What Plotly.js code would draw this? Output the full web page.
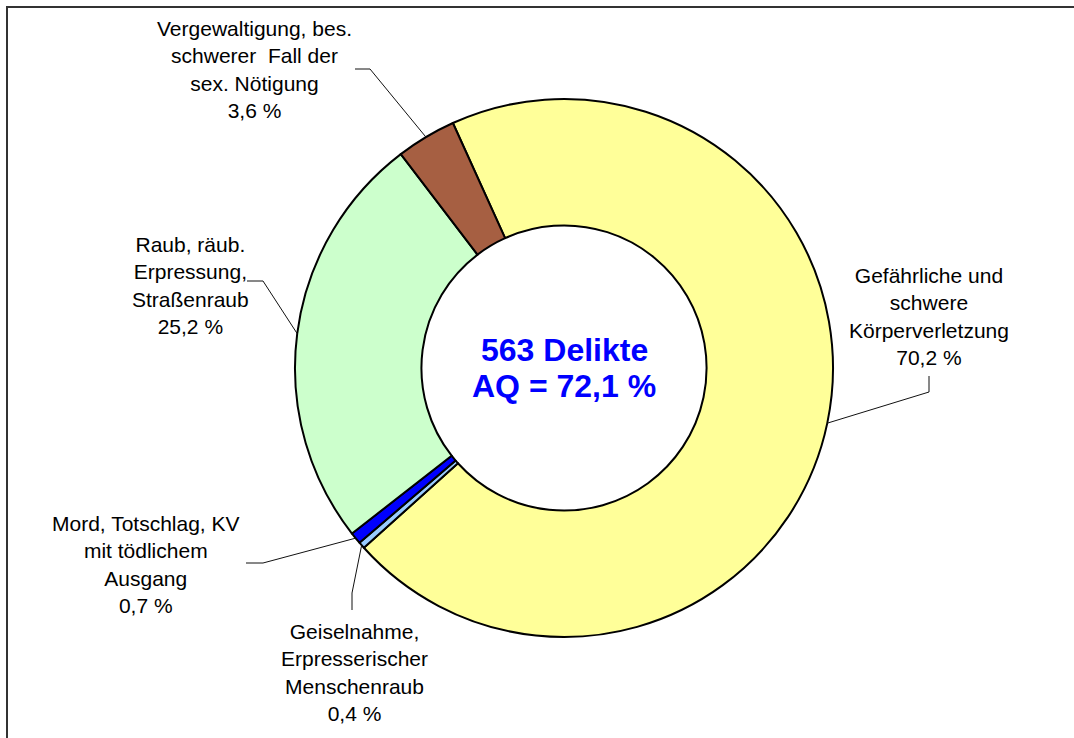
<!DOCTYPE html>
<html>
<head>
<meta charset="utf-8">
<script src="https://cdn.plot.ly/plotly-3.0.1.min.js"></script>
<style>html,body{margin:0;padding:0;background:#fff;}#chart{width:1074px;height:738px;}</style>
</head>
<body>
<div id="chart"></div>
<script>
// ---- data ----
const categories = [
  "Gefährliche und schwere Körperverletzung",
  "Geiselnahme, Erpresserischer Menschenraub",
  "Mord, Totschlag, KV mit tödlichem Ausgang",
  "Raub, räub. Erpressung, Straßenraub",
  "Vergewaltigung, bes. schwerer Fall der sex. Nötigung"
];
const labelLines = [
  ["Gefährliche und", "schwere", "Körperverletzung"],
  ["Geiselnahme,", "Erpresserischer", "Menschenraub"],
  ["Mord, Totschlag, KV", "mit tödlichem", "Ausgang"],
  ["Raub, räub.", "Erpressung,", "Straßenraub"],
  ["Vergewaltigung, bes.", "schwerer  Fall der", "sex. Nötigung"]
];
const shares = [70.2, 0.4, 0.7, 25.2, 3.6];
const totalCases = 563;
const aqRate = 72.1;

// ---- style / layout ----
const colors = ["#FFFF99", "#99CCFF", "#0000FF", "#CCFFCC", "#A65F42"];
const W = 1074, H = 738;
const cxPx = 564, cyPx = 368, rPx = 269;
const rotationDeg = -24.4;
// label centre positions (px) and leader elbows (px): [start, bend]
const labelPos = [[929, 316], [354, 672], [146, 564], [190, 285], [254, 70]];
const elbows = [
  [[929, 376], [929, 392]],
  [[352, 610], [352, 593]],
  [[246, 563], [263, 563]],
  [[247, 281], [263, 281]],
  [[355, 69], [370, 69]]
];

const fmt = v => v.toFixed(1).replace('.', ',') + ' %';
const px2x = x => x / W;
const px2y = y => 1 - y / H;

const total = shares.reduce((a, b) => a + b, 0);
const annotations = [];
const shapes = [];
let ang = rotationDeg;
shares.forEach((v, i) => {
  const span = v / total * 360;
  const mid = (ang + span / 2) * Math.PI / 180;
  ang += span;
  const ex = cxPx + rPx * Math.sin(mid);
  const ey = cyPx - rPx * Math.cos(mid);
  const [s, b] = elbows[i];
  shapes.push({
    type: 'path', xref: 'paper', yref: 'paper',
    path: `M ${px2x(s[0])},${px2y(s[1])} L ${px2x(b[0])},${px2y(b[1])} L ${px2x(ex)},${px2y(ey)}`,
    line: {color: '#111', width: 1}
  });
  annotations.push({
    xref: 'paper', yref: 'paper', x: px2x(labelPos[i][0]), y: px2y(labelPos[i][1]),
    xanchor: 'center', yanchor: 'middle', showarrow: false, align: 'center',
    text: labelLines[i].join('<br>') + '<br>' + fmt(v),
    font: {family: 'Liberation Sans, Arial, sans-serif', size: 21, color: '#000'}
  });
});

annotations.push({
  xref: 'paper', yref: 'paper', x: px2x(cxPx), y: px2y(350), xanchor: 'center', yanchor: 'middle',
  showarrow: false, text: '<b>' + totalCases + ' Delikte</b>',
  font: {family: 'Liberation Sans, Arial, sans-serif', size: 32, color: '#0000FF'}
});
annotations.push({
  xref: 'paper', yref: 'paper', x: px2x(cxPx), y: px2y(386), xanchor: 'center', yanchor: 'middle',
  showarrow: false, text: '<b>AQ = ' + aqRate.toFixed(1).replace('.', ',') + ' %</b>',
  font: {family: 'Liberation Sans, Arial, sans-serif', size: 32, color: '#0000FF'}
});

// frame
shapes.push({
  type: 'path', xref: 'paper', yref: 'paper',
  path: `M ${px2x(7)},${px2y(760)} L ${px2x(7)},${px2y(7)} L ${px2x(1100)},${px2y(7)}`,
  line: {color: '#333', width: 2}
});

const trace = {
  type: 'pie',
  labels: categories,
  values: shares,
  sort: false,
  direction: 'clockwise',
  rotation: rotationDeg,
  hole: 0.53,
  textinfo: 'none',
  marker: {colors: colors, line: {color: '#000', width: 2}},
  domain: {x: [(cxPx - rPx) / W, (cxPx + rPx) / W], y: [1 - (cyPx + rPx) / H, 1 - (cyPx - rPx) / H]},
  showlegend: false,
  hoverinfo: 'label+percent'
};

Plotly.newPlot('chart', [trace], {
  width: W, height: H,
  margin: {l: 0, r: 0, t: 0, b: 0},
  paper_bgcolor: '#fff',
  showlegend: false,
  annotations: annotations,
  shapes: shapes
}, {displayModeBar: false, staticPlot: true});
</script>
</body>
</html>
